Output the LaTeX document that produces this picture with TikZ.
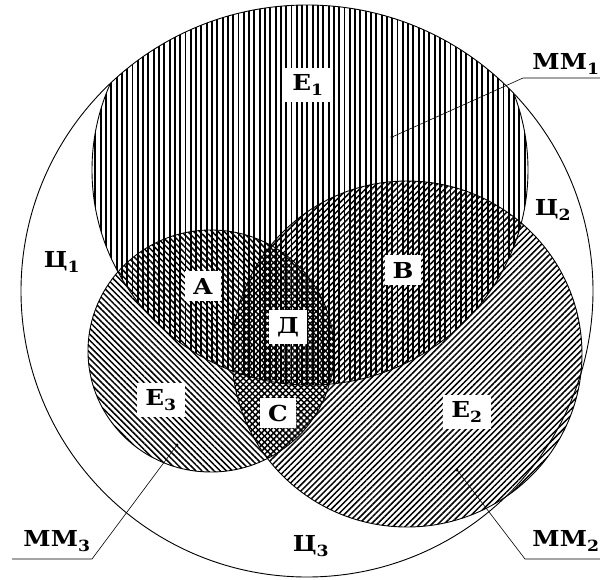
\documentclass[tikz,border=0pt]{standalone}
\usepackage{fontspec}
\setmainfont{DejaVu Serif}
\newfontfamily\lblfont[FakeStretch=1.12]{DejaVu Serif}
\usetikzlibrary{patterns.meta}

\tikzset{
  zone/.style={fill=white,inner xsep=8pt,inner ysep=7pt,font=\lblfont\bfseries\fontsize{22}{22}\selectfont},
  tag/.style={inner sep=0pt,font=\lblfont\bfseries\fontsize{22}{22}\selectfont},
  rim/.style={line width=0.9pt},
  lead/.style={line width=0.6pt},
  vlines/.style={pattern={Lines[angle=90,distance=5.3pt,line width=1.9pt]}},
  nelines/.style={pattern={Lines[angle=45,distance=4.3pt,line width=1.5pt]}},
  nwlines/.style={pattern={Lines[angle=-45,distance=4.3pt,line width=1.5pt]}}
}

\begin{document}
\begin{tikzpicture}[x=1pt,y=-1pt]
\useasboundingbox (0,0) rectangle (600,579);

\begin{scope}
\clip (307,291) circle[radius=286];
\fill[vlines] (310,170) ellipse[x radius=218,y radius=215];
\draw[rim] (310,170) ellipse[x radius=218,y radius=215];
\end{scope}
\fill[nelines] (407,354) ellipse[x radius=175,y radius=173];
\fill[nwlines] (211,351) ellipse[x radius=123,y radius=121];
\draw[rim] (407,354) ellipse[x radius=175,y radius=173];
\draw[rim] (211,351) ellipse[x radius=123,y radius=121];
\draw[rim] (307,291) circle[radius=286];

\node[zone] (e1) at (308,85) {Е\textsubscript{1}};
\node[zone] (e2) at (467,412) {Е\textsubscript{2}};
\node[zone] (e3) at (161,400) {Е\textsubscript{3}};
\node[zone] (a) at (203,286) {А};
\node[zone] (v) at (403,270) {В};
\node[zone] (d) at (288,327) {Д};
\node[zone] (c) at (278,413) {С};

\node[tag] (c1) at (62,262) {Ц\textsubscript{1}};
\node[tag] (c2) at (553,210) {Ц\textsubscript{2}};
\node[tag] (c3) at (311,546) {Ц\textsubscript{3}};
\node[tag] (mm1) at (566,64) {ММ\textsubscript{1}};
\node[tag] (mm2) at (566,541) {ММ\textsubscript{2}};
\node[tag] (mm3) at (57,541) {ММ\textsubscript{3}};

\coordinate (p1) at (392,137);
\coordinate (k1) at (523,78);
\coordinate (t1) at (600,78);
\coordinate (p2) at (457,470);
\coordinate (k2) at (525,559);
\coordinate (t2) at (600,559);
\coordinate (p3) at (177,445);
\coordinate (k3) at (92,559);
\coordinate (t3) at (12,559);

\draw[lead] (p1) -- (k1) -- (t1);
\draw[lead] (p2) -- (k2) -- (t2);
\draw[lead] (p3) -- (k3) -- (t3);
\fill (p1) circle[radius=1.6];
\fill (p2) circle[radius=1.6];
\fill (p3) circle[radius=1.6];
\end{tikzpicture}
\end{document}
